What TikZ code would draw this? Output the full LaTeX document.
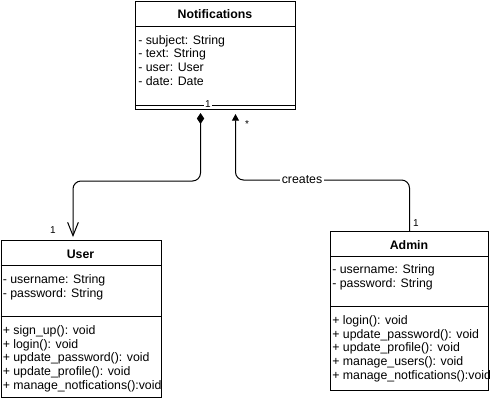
\documentclass[tikz,border=0pt]{standalone}
\usepackage{fontspec}
\setmainfont{Liberation Sans}
\usetikzlibrary{arrows.meta,calc,positioning}

\tikzset{
  classbox/.style={draw, line width=0.75pt, rectangle, inner sep=0pt, anchor=north west},
  classtitle/.style={font=\fontsize{9.25}{10}\selectfont\bfseries, inner sep=0pt, anchor=base},
  classtext/.style={font=\fontsize{9.25}{10.25}\selectfont, inner sep=0pt, anchor=base west, align=left},
  multlabel/.style={font=\fontsize{7.5}{9}\selectfont, inner sep=0.75pt},
  conn/.style={line width=0.75pt, rounded corners=6pt},
  sepline/.style={line width=0.75pt},
}

\begin{document}
\begin{tikzpicture}[x=0.75pt,y=0.75pt,yscale=-1,xscale=1]
  \useasboundingbox (0,0) rectangle (491,404);

  %Class boxes
  \node[classbox, minimum width=120pt, minimum height=81pt] (notif) at (135,1) {};
  \node[classbox, minimum width=120pt, minimum height=117.75pt] (user) at (0.5,240) {};
  \node[classbox, minimum width=118.5pt, minimum height=119.25pt] (admin) at (330,231) {};

  %Separators
  \draw[sepline] (135,26) -- (295,26);
  \draw[sepline] (135,105) -- (295,105);
  \draw[sepline] (0.5,265) -- (160.5,265);
  \draw[sepline] (0.5,316) -- (160.5,316);
  \draw[sepline] (330,256) -- (488,256);
  \draw[sepline] (330,306) -- (488,306);

  % Text Node (anchored at the baseline of the last line)
  \node[classtitle] (notiftitle) at (215,18) {Notifications};
  \node[classtext] (notifattr) at (138,85) {- subject: String\\- text: String\\- user: User\\- date: Date};

  % Text Node
  \node[classtitle] (usertitle) at (80.5,258) {User};
  \node[classtext] (userattr) at (2.5,297) {- username: String\\- password: String};
  \begin{scope}
    \clip (user.north west) rectangle (user.south east);
    \node[classtext] (usermeth) at (2.5,389) {+ sign\_up(): void\\+ login(): void\\+ update\_password(): void\\+ update\_profile(): void\\+ manage\_notfications():void};
  \end{scope}

  % Text Node
  \node[classtitle] (admintitle) at (409,249) {Admin};
  \node[classtext] (adminattr) at (332,287) {- username: String\\- password: String};
  \begin{scope}
    \clip (admin.north west) rectangle (admin.south east);
    \node[classtext] (adminmeth) at (332,379) {+ login(): void\\+ update\_password(): void\\+ update\_profile(): void\\+ manage\_users(): void\\+ manage\_notfications():void};
  \end{scope}

  %Connectors
  \draw[conn, {Diamond[length=8.25pt,width=5.5pt]}-{Straight Barb[length=10pt,width=8pt]}] ($(notif.south)+(-15,3)$) -- ++(0,68) -| ($(user.north)+(-8,-3)$);
  \draw[conn, -{Triangle[length=5pt,width=5.25pt]}] (admin.north) -- ++(0,-51) -| ($(notif.south)+(20,4)$);

  % Labels
  \node[multlabel, fill=white] (mnotif) at (208,104) {1};
  \node[multlabel] (mstar) at (247,124) {*};
  \node[multlabel] (muser) at (53,230) {1};
  \node[multlabel] (madmin) at (416,223) {1};
  \node[font=\fontsize{9.25}{10}\selectfont, fill=white, inner sep=1pt] (creates) at (302,180) {creates};
\end{tikzpicture}
\end{document}
